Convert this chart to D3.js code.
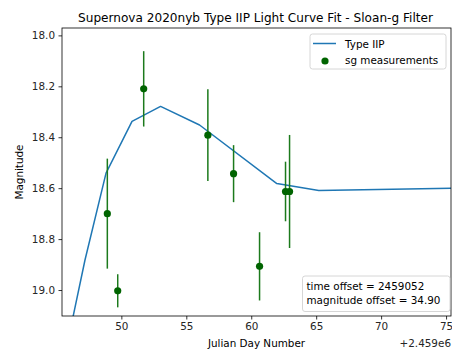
<!DOCTYPE html>
<html>
<head>
<meta charset="utf-8">
<script src="https://cdn.jsdelivr.net/npm/d3@7"></script>
<style>
  html, body { margin: 0; padding: 0; background: #fff; }
  svg { display: block; font-family: "DejaVu Sans", sans-serif; }
</style>
</head>
<body>
<svg id="chart" width="452" height="354"></svg>
<script>
// Observed Sloan-g photometry (days relative to 2459000)
const obsDay = [48.92, 49.72, 51.72, 56.66, 58.64, 60.64, 62.64, 62.95];
const obsMag = [18.70, 19.003, 18.21, 18.392, 18.543, 18.907, 18.613, 18.613];
const obsErr = [0.216, 0.065, 0.148, 0.18, 0.112, 0.134, 0.117, 0.222];

// Type IIP template fit
const fitDay = [45.6, 47.2, 48.82, 50.82, 53.02, 56.02, 61.97, 65.2, 75.5];
const fitMag = [19.27, 18.882, 18.541, 18.338, 18.279, 18.352, 18.582, 18.609, 18.600];

const xTicks = [50, 55, 60, 65, 70, 75];
const yTicks = [18.0, 18.2, 18.4, 18.6, 18.8, 19.0];

const titleText = "Supernova 2020nyb Type IIP Light Curve Fit - Sloan-g Filter";
const infoLines = ["time offset = 2459052", "magnitude offset = 34.90"];
const legendLabels = ["Type IIP", "sg measurements"];

const L = 62, R = 451, T = 28, B = 316;
const FS = 10.4;
const svg = d3.select("#chart");

const x = d3.scaleLinear().domain([45.43, 75.38]).range([L, R]);
const y = d3.scaleLinear().domain([17.971, 19.102]).range([T, B]);

svg.append("defs").append("clipPath").attr("id", "plotClip")
  .append("rect").attr("x", L).attr("y", T).attr("width", R - L).attr("height", B - T);

const plot = svg.append("g").attr("clip-path", "url(#plotClip)");

// fit curve
const line = d3.line().x(d => x(d[0])).y(d => y(d[1]));
plot.append("path")
  .datum(fitDay.map((d, i) => [d, fitMag[i]]))
  .attr("d", line)
  .attr("fill", "none")
  .attr("stroke", "#1f77b4")
  .attr("stroke-width", 1.5)
  .attr("stroke-linejoin", "round");

// error bars and measurements
const obs = obsDay.map((d, i) => ({ d, m: obsMag[i], e: obsErr[i] }));
plot.selectAll("line.err").data(obs).enter().append("line")
  .attr("class", "err")
  .attr("x1", o => x(o.d)).attr("x2", o => x(o.d))
  .attr("y1", o => y(o.m - o.e)).attr("y2", o => y(o.m + o.e))
  .attr("stroke", "#1c7a1c").attr("stroke-width", 1.5);
plot.selectAll("circle.pt").data(obs).enter().append("circle")
  .attr("class", "pt")
  .attr("cx", o => x(o.d)).attr("cy", o => y(o.m))
  .attr("r", 3.6)
  .attr("fill", "#006400");

// axes
const xAxis = d3.axisBottom(x).tickValues(xTicks).tickSize(3.5).tickPadding(3.5).tickFormat(d3.format("d"));
const yAxis = d3.axisLeft(y).tickValues(yTicks).tickSize(3.5).tickPadding(3.5).tickFormat(d3.format(".1f"));

const gx = svg.append("g").attr("transform", `translate(0,${B})`).call(xAxis);
const gy = svg.append("g").attr("transform", `translate(${L},0)`).call(yAxis);
[gx, gy].forEach(g => {
  g.select(".domain").remove();
  g.selectAll("line").attr("stroke", "#000").attr("stroke-width", 0.8);
  g.selectAll("text").attr("fill", "#262626").attr("font-size", FS)
    .attr("font-family", "DejaVu Sans, sans-serif");
});

// frame
svg.append("rect").attr("x", L).attr("y", T).attr("width", R - L).attr("height", B - T)
  .attr("fill", "none").attr("stroke", "#000").attr("stroke-width", 0.8);

// title and labels
svg.append("text").attr("x", (L + R) / 2 - 1).attr("y", 22).attr("text-anchor", "middle")
  .attr("font-size", 12.1).attr("fill", "#000").text(titleText);
svg.append("text").attr("x", (L + R) / 2).attr("y", 347).attr("text-anchor", "middle")
  .attr("font-size", FS).attr("fill", "#000").text("Julian Day Number");
svg.append("text").attr("x", R).attr("y", 347).attr("text-anchor", "end")
  .attr("font-size", FS).attr("fill", "#262626").text("+2.459e6");
svg.append("text").attr("transform", `translate(23,${(T + B) / 2}) rotate(-90)`)
  .attr("text-anchor", "middle").attr("font-size", FS).attr("fill", "#000").text("Magnitude");

// legend
const leg = svg.append("g");
leg.append("rect").attr("x", 310).attr("y", 34).attr("width", 136).attr("height", 35)
  .attr("rx", 2.5).attr("fill", "#fff").attr("fill-opacity", 0.8)
  .attr("stroke", "#cccccc").attr("stroke-width", 0.8);
leg.append("line").attr("x1", 313).attr("x2", 336).attr("y1", 43.5).attr("y2", 43.5)
  .attr("stroke", "#1f77b4").attr("stroke-width", 1.5);
leg.append("circle").attr("cx", 325).attr("cy", 61).attr("r", 3.6).attr("fill", "#006400");
leg.selectAll("text").data(legendLabels).enter().append("text")
  .attr("x", 345).attr("y", (d, i) => 47.5 + i * 16.5)
  .attr("font-size", FS).attr("fill", "#000").text(d => d);

// offsets note
const info = svg.append("g");
info.append("rect").attr("x", 302.5).attr("y", 276).attr("width", 147.5).attr("height", 35.5)
  .attr("rx", 2.5).attr("fill", "#fff").attr("fill-opacity", 0.8)
  .attr("stroke", "#cccccc").attr("stroke-width", 0.8);
info.selectAll("text").data(infoLines).enter().append("text")
  .attr("x", 306.5).attr("y", (d, i) => 290 + i * 13.5)
  .attr("font-size", FS).attr("fill", "#000").text(d => d);
</script>
</body>
</html>
